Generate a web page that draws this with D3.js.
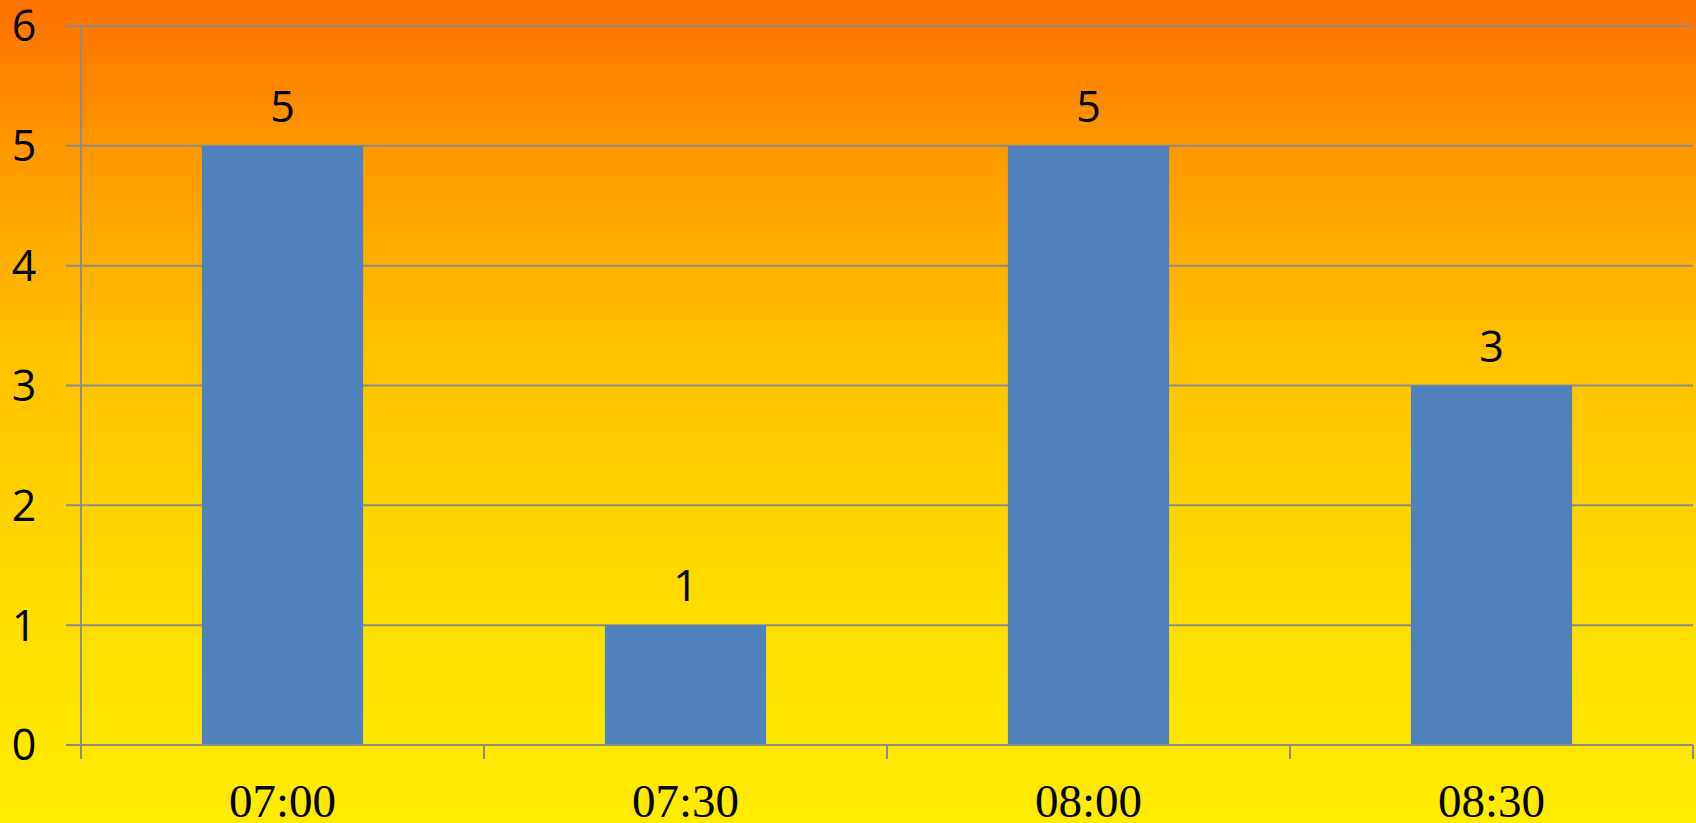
<!DOCTYPE html>
<html><head><meta charset="utf-8">
<script src="https://cdn.jsdelivr.net/npm/d3@7"></script>
<style>html,body{margin:0;padding:0;overflow:hidden;}</style>
</head><body>
<script>
const categories = ["07:00","07:30","08:00","08:30"];
const values = [5,1,5,3];
const yTicks = [0,1,2,3,4,5,6];

const W = 1696, H = 823;
const svg = d3.select("body").append("svg").attr("width",W).attr("height",H);
const defs = svg.append("defs");
const grad = defs.append("linearGradient").attr("id","bg").attr("x1",0).attr("y1",0).attr("x2",0).attr("y2",1);
[[0,"#ff7000"],[0.18,"#ff9800"],[0.43,"#ffc200"],[0.75,"#ffde00"],[1,"#ffec00"]].forEach(s=>
  grad.append("stop").attr("offset",s[0]).attr("stop-color",s[1]));
svg.append("rect").attr("width",W).attr("height",H).attr("fill","url(#bg)");

const x0 = 81, x1 = 1693, yTop = 26, yBot = 745;
const x = d3.scaleBand().domain(categories).range([x0,x1]).padding(0);
const y = d3.scaleLinear().domain([0,6]).range([yBot,yTop]);
const grey = "#8c8c8c";

// gridlines
svg.append("g").selectAll("line").data(yTicks).join("line")
  .attr("x1",66).attr("x2",x1).attr("y1",d=>y(d)).attr("y2",d=>y(d))
  .attr("stroke",grey).attr("stroke-width",2);
// y axis line
svg.append("line").attr("x1",x0).attr("x2",x0).attr("y1",yTop).attr("y2",yBot+14)
  .attr("stroke",grey).attr("stroke-width",2);
// x tick marks
const boundaries = categories.map(c=>x(c)).slice(1).concat([x1]);
svg.append("g").selectAll("line").data(boundaries).join("line")
  .attr("x1",d=>d).attr("x2",d=>d).attr("y1",yBot).attr("y2",yBot+14)
  .attr("stroke",grey).attr("stroke-width",2);

// bars
const bw = x.bandwidth()*0.4;
svg.append("g").selectAll("rect").data(values).join("rect")
  .attr("x",(d,i)=>x(categories[i])+x.bandwidth()/2-bw/2)
  .attr("width",bw)
  .attr("y",d=>y(d)).attr("height",d=>y(0)-y(d))
  .attr("fill","#4f81bd");

// re-draw the baseline over bars
svg.append("line").attr("x1",66).attr("x2",x1).attr("y1",y(0)).attr("y2",y(0))
  .attr("stroke",grey).attr("stroke-width",2);

// y labels
svg.append("g").selectAll("text").data(yTicks).join("text")
  .attr("x",24).attr("y",d=>y(d)).attr("text-anchor","middle").attr("dy","0.36em")
  .attr("font-family","'Open Sans', sans-serif").attr("font-size",43).attr("fill","#000")
  .text(d=>d);

// value labels
svg.append("g").selectAll("text").data(values).join("text")
  .attr("x",(d,i)=>x(categories[i])+x.bandwidth()/2).attr("y",d=>y(d)-24)
  .attr("text-anchor","middle")
  .attr("font-family","'Open Sans', sans-serif").attr("font-size",43).attr("fill","#000")
  .text(d=>d);

// x labels
svg.append("g").selectAll("text").data(categories).join("text")
  .attr("x",d=>x(d)+x.bandwidth()/2).attr("y",817)
  .attr("text-anchor","middle")
  .attr("font-family","'Liberation Serif', serif").attr("font-size",47).attr("fill","#000")
  .text(d=>d);
</script>
</body></html>
